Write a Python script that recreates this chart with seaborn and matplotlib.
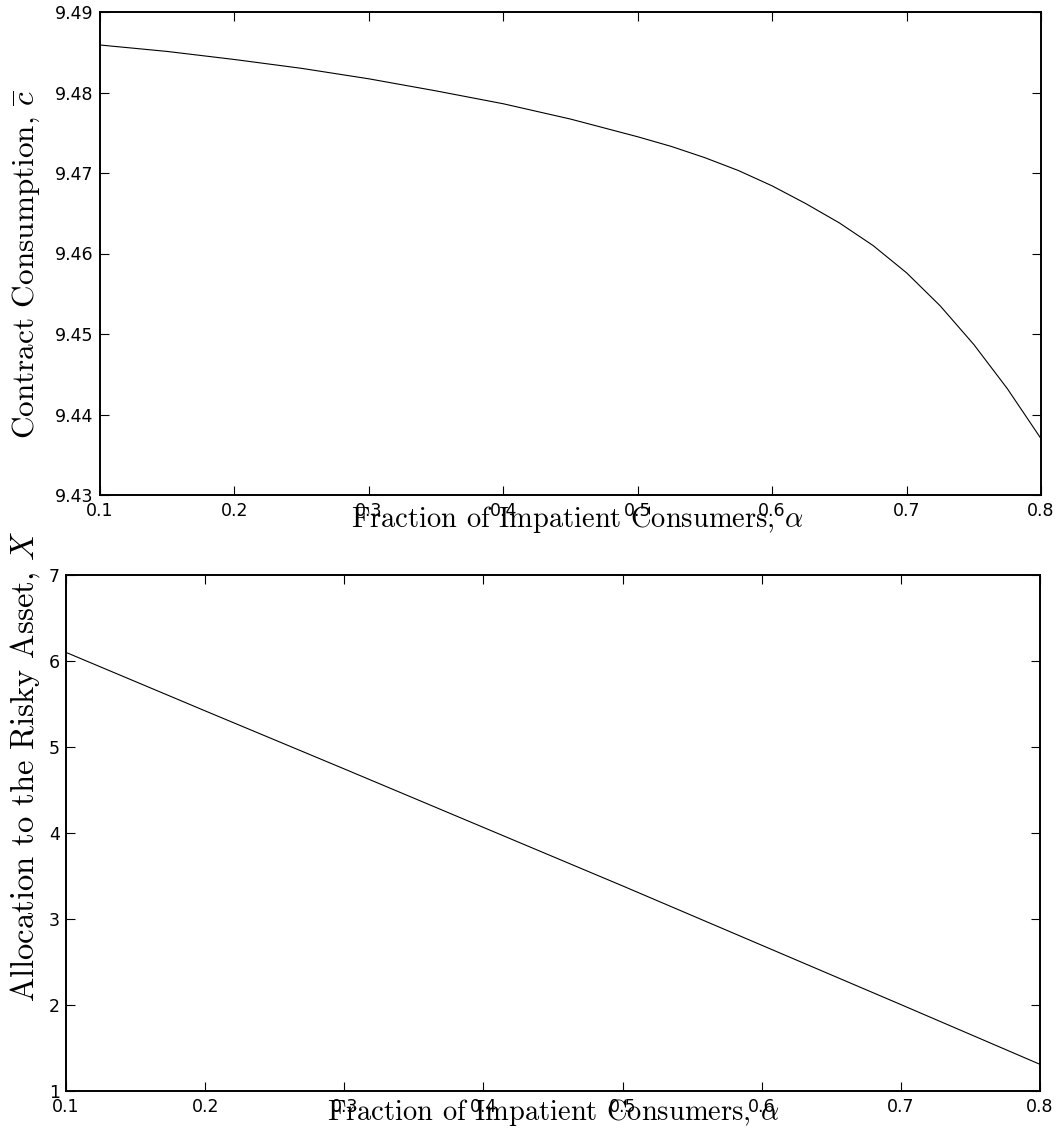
import numpy as np
import pandas as pd
import matplotlib
matplotlib.use("Agg")
import matplotlib.pyplot as plt
import seaborn as sns

# ---- data ----
alpha_top = [0.10, 0.15, 0.20, 0.25, 0.30, 0.35, 0.40, 0.45, 0.50, 0.525, 0.55,
             0.575, 0.60, 0.625, 0.65, 0.675, 0.70, 0.725, 0.75, 0.775, 0.80]
cbar = [9.4859, 9.4851, 9.4841, 9.4830, 9.4817, 9.4802, 9.4786, 9.4767, 9.4745,
        9.4733, 9.4719, 9.4703, 9.4684, 9.4662, 9.4638, 9.4610, 9.4576, 9.4535,
        9.4487, 9.4432, 9.4370]

alpha_bot = [0.1, 0.2, 0.3, 0.4, 0.5, 0.6, 0.7, 0.8]
risky_x = [6.10, 5.42, 4.745, 4.065, 3.385, 2.695, 2.005, 1.31]

xticks = [0.1, 0.2, 0.3, 0.4, 0.5, 0.6, 0.7, 0.8]
yticks_top = [9.43, 9.44, 9.45, 9.46, 9.47, 9.48, 9.49]
yticks_bot = [1, 2, 3, 4, 5, 6, 7]

xlabel_txt = r"Fraction of Impatient Consumers, $\alpha$"
ylabel_top = r"Contract Consumption, $\overline{c}$"
ylabel_bot = r"Allocation to the Risky Asset, $X$"

# ---- style ----
sns.set_theme(style="white")
plt.rcParams["font.family"] = ["DejaVu Sans"]
plt.rcParams["mathtext.fontset"] = "cm"
plt.rcParams.update({
    "xtick.direction": "in", "ytick.direction": "in",
    "xtick.top": True, "ytick.right": True,
    "xtick.bottom": True, "ytick.left": True,
    "xtick.major.size": 6.5, "ytick.major.size": 6.5,
    "xtick.major.width": 0.8, "ytick.major.width": 0.8,
    "xtick.color": "black", "ytick.color": "black",
    "axes.edgecolor": "black", "axes.linewidth": 1.4,
})

fig = plt.figure(figsize=(10.63, 11.41), dpi=100)
W, H = 1063, 1141
ax1 = fig.add_axes([100 / W, 1 - 495 / H, (1041 - 100) / W, (495 - 12) / H])
ax2 = fig.add_axes([66 / W, 1 - 1091 / H, (1040 - 66) / W, (1091 - 575) / H])

df1 = pd.DataFrame({"alpha": alpha_top, "cbar": cbar})
df2 = pd.DataFrame({"alpha": alpha_bot, "X": risky_x})

sns.lineplot(data=df1, x="alpha", y="cbar", ax=ax1, color="black", lw=0.8)
sns.lineplot(data=df2, x="alpha", y="X", ax=ax2, color="black", lw=0.8)

lab_font = dict(family="cmr10", color="black")

ax1.set_xlim(0.1, 0.8)
ax1.set_ylim(9.43, 9.49)
ax1.set_xticks(xticks)
ax1.set_xticklabels([f"{v:.1f}" for v in xticks])
ax1.set_yticks(yticks_top)
ax1.set_yticklabels([f"{v:.2f}" for v in yticks_top])

ax2.set_xlim(0.1, 0.8)
ax2.set_ylim(1, 7)
ax2.set_xticks(xticks)
ax2.set_xticklabels([f"{v:.1f}" for v in xticks])
ax2.set_yticks(yticks_bot)
ax2.set_yticklabels([str(v) for v in yticks_bot])

for ax in (ax1, ax2):
    ax.tick_params(axis="x", labelsize=12.5, pad=5)
    ax.tick_params(axis="y", labelsize=12.5, pad=4.5)
    for s in ax.spines.values():
        s.set_visible(True)
        s.set_color("black")
    ax.grid(False)

ax1.set_xlabel(xlabel_txt, fontsize=20.5, **lab_font)
ax1.set_ylabel(ylabel_top, fontsize=22.5, **lab_font)
ax2.set_xlabel(xlabel_txt, fontsize=20.5, **lab_font)
ax2.set_ylabel(ylabel_bot, fontsize=23.5, **lab_font)

ax1.xaxis.set_label_coords(0.507, -0.019)
ax1.yaxis.set_label_coords(-0.062, 0.478)
ax2.xaxis.set_label_coords(0.5, -0.011)
ax2.yaxis.set_label_coords(-0.025, 0.628)

fig.savefig("out.png", dpi=100)
